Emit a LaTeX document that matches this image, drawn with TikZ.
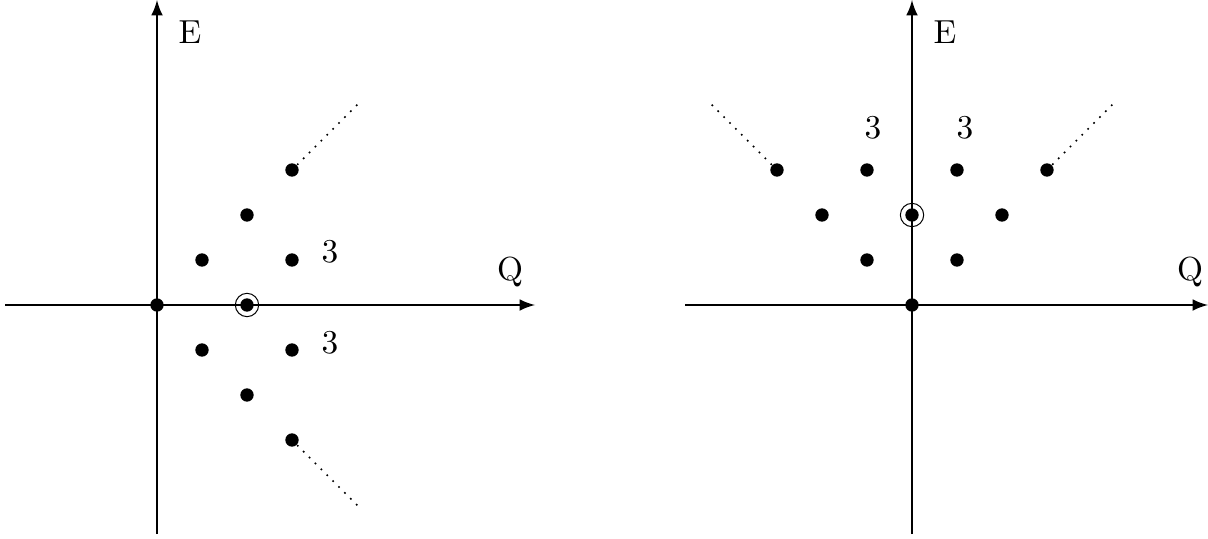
\documentclass[tikz,border=0pt]{standalone}
\usetikzlibrary{calc}
\tikzset{
  state/.style={circle,fill=black,inner sep=0pt,minimum size=4pt},
  ring/.style={circle,draw,line width=.3pt,inner sep=0pt,minimum size=7pt},
  axis/.style={line width=.6pt,-latex},
  tail/.style={line width=.5pt,dotted},
}
\begin{document}
\begin{tikzpicture}[x=1pt,y=1pt,scale=.3]
        \useasboundingbox (0, 0) rectangle (1208, 538);
        % left
        \draw[axis](5, 233) -- (535, 233);
        \draw[axis](157, 4) -- (157, 538);
        \node at (190, 506) {E};
        \node at (510, 266) {Q};
        \node[state] (l0) at (157, 233) {};
        \node[state] (l1) at (202, 278) {};
        \node[state] (l2) at (247, 323) {};
        \node[state] (l3) at (292, 368) {};
        \node[state] (l4) at (292, 278) {};
        \node[state] (l5) at (247, 233) {};
        \node[ring] at (l5) {};
        \node[state] (l6) at (202, 188) {};
        \node[state] (l7) at (292, 188) {};
        \node[state] (l8) at (247, 143) {};
        \node[state] (l9) at (292, 98) {};
        \coordinate (lt) at (362, 438);
        \coordinate (lb) at (362, 28);
        \draw[tail](l3) -- (lt);
        \draw[tail](l9) -- (lb);
        \node at (330, 286) {$3$};
        \node at (330, 195) {$3$};
        % right
        \draw[axis](685, 233) -- (1208, 233);
        \draw[axis](912, 4) -- (912, 538);
        \node at (945, 506) {E};
        \node at (1190, 266) {Q};
        \node[state] (r0) at (912, 233) {};
        \node[state] (r1) at (867, 278) {};
        \node[state] (r2) at (957, 278) {};
        \node[state] (r3) at (822, 323) {};
        \node[state] (r4) at (912, 323) {};
        \node[ring] at (r4) {};
        \node[state] (r5) at (1002, 323) {};
        \node[state] (r6) at (777, 368) {};
        \node[state] (r7) at (867, 368) {};
        \node[state] (r8) at (957, 368) {};
        \node[state] (r9) at (1047, 368) {};
        \coordinate (rl) at (707, 438);
        \coordinate (rr) at (1117, 438);
        \draw[tail](r6) -- (rl);
        \draw[tail](r9) -- (rr);
        \node at (873, 410) {$3$};
        \node at (965, 410) {$3$};
    \end{tikzpicture}
\end{document}
